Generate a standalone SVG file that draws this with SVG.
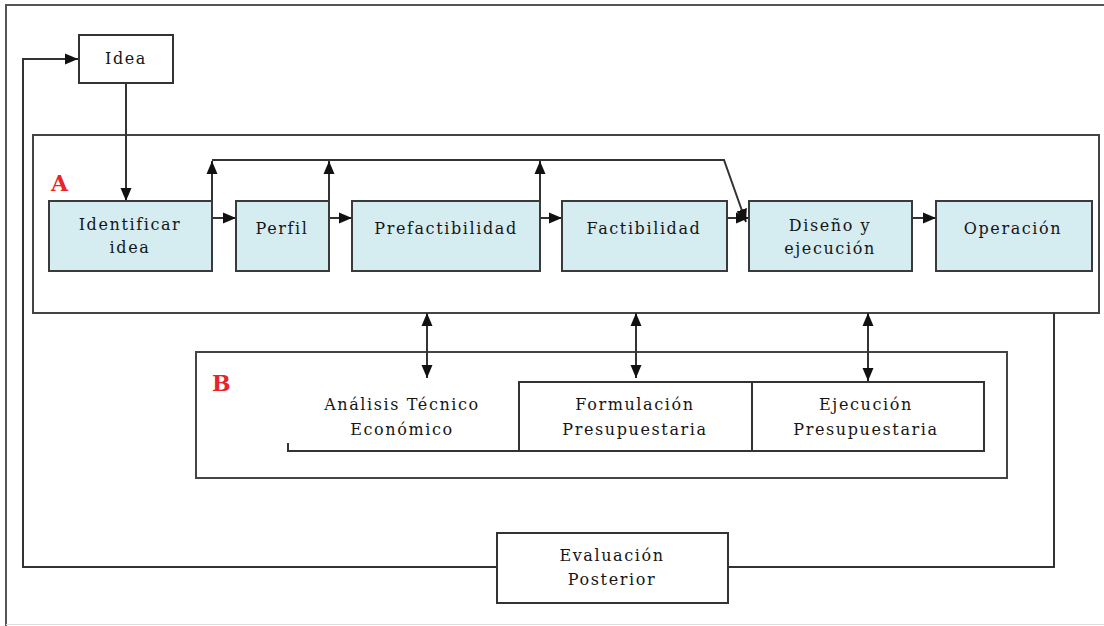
<svg xmlns="http://www.w3.org/2000/svg" width="1104" height="626" viewBox="0 0 1104 626">
<defs>
<marker id="ah" markerUnits="userSpaceOnUse" markerWidth="13" markerHeight="13" viewBox="0 0 13 13" refX="13" refY="6.5" orient="auto-start-reverse">
<path d="M0,1 L13,6.5 L0,12 Z" fill="#111"/>
</marker>
<style>
.line{fill:none;stroke:#333;stroke-width:2}
.arr{fill:none;stroke:#333;stroke-width:2;marker-end:url(#ah)}
.bi{fill:none;stroke:#333;stroke-width:2;marker-end:url(#ah);marker-start:url(#ah)}
.wbox{fill:#fff;stroke:#333;stroke-width:2}
.pbox{fill:#d5ecf1;stroke:#3a3a3a;stroke-width:2}
.frame{fill:none;stroke:#444;stroke-width:2}
text{font-family:"DejaVu Serif","Liberation Serif",serif;font-size:16px;letter-spacing:1.6px;fill:#151515;text-anchor:middle}
.lbl{font-family:"DejaVu Serif","Liberation Serif",serif;font-size:22px;font-weight:bold;letter-spacing:0;fill:#e8242a;text-anchor:start}
</style>
</defs>
<rect width="1104" height="626" fill="#fff"/>
<path d="M6,626 V5 H1104" fill="none" stroke="#555" stroke-width="2"/>
<line x1="6" y1="624.5" x2="1104" y2="624.5" stroke="#ddd" stroke-width="1"/>

<g id="frameA">
<rect class="frame" x="33" y="135" width="1066" height="178"/>
<text class="lbl" x="51" y="191">A</text>
</g>
<g id="frameB">
<rect class="frame" x="196" y="352" width="811" height="126"/>
<text class="lbl" x="212" y="391">B</text>
</g>

<g id="connectors">
<polyline class="arr" points="497,567 23,567 23,59 78,59"/>
<line class="arr" x1="126" y1="83" x2="126" y2="201"/>
<line class="arr" x1="212" y1="218" x2="236" y2="218"/>
<line class="arr" x1="329" y1="218" x2="352" y2="218"/>
<line class="arr" x1="540" y1="218" x2="562" y2="218"/>
<line class="arr" x1="727" y1="218" x2="749" y2="218"/>
<line class="arr" x1="912" y1="218" x2="936" y2="218"/>
<line class="arr" x1="212" y1="201" x2="212" y2="161"/>
<line class="arr" x1="329" y1="201" x2="329" y2="161"/>
<line class="arr" x1="540" y1="201" x2="540" y2="161"/>
<polyline class="arr" points="212,160 724,160 746,222"/>
<line class="bi" x1="427" y1="313" x2="427" y2="378"/>
<line class="bi" x1="636" y1="313" x2="636" y2="378"/>
<line class="bi" x1="868" y1="313" x2="868" y2="381"/>
<polyline class="line" points="728,567 1054,567 1054,313"/>
<polyline class="line" points="288,443 288,451 519,451"/>
</g>

<g id="idea">
<rect class="wbox" x="79" y="35" width="94" height="48"/>
<text x="126" y="64">Idea</text>
</g>
<g id="identificar">
<rect class="pbox" x="49" y="201" width="163" height="70"/>
<text x="130" y="230">Identificar</text>
<text x="130" y="253">idea</text>
</g>
<g id="perfil">
<rect class="pbox" x="236" y="201" width="93" height="70"/>
<text x="282" y="234">Perfil</text>
</g>
<g id="prefactibilidad">
<rect class="pbox" x="352" y="201" width="188" height="70"/>
<text x="446" y="234">Prefactibilidad</text>
</g>
<g id="factibilidad">
<rect class="pbox" x="562" y="201" width="165" height="70"/>
<text x="644" y="234">Factibilidad</text>
</g>
<g id="diseno">
<rect class="pbox" x="749" y="201" width="163" height="70"/>
<text x="830" y="231">Diseño y</text>
<text x="830" y="254">ejecución</text>
</g>
<g id="operacion">
<rect class="pbox" x="936" y="201" width="156" height="70"/>
<text x="1013" y="234">Operación</text>
</g>
<g id="analisis">
<text x="402" y="410">Análisis Técnico</text>
<text x="402" y="435">Económico</text>
</g>
<g id="formulacion">
<rect class="wbox" x="519" y="382" width="233" height="69"/>
<text x="635" y="410">Formulación</text>
<text x="635" y="435">Presupuestaria</text>
</g>
<g id="ejecucion">
<rect class="wbox" x="752" y="382" width="232" height="69"/>
<text x="866" y="410">Ejecución</text>
<text x="866" y="435">Presupuestaria</text>
</g>
<g id="evaluacion">
<rect class="wbox" x="497" y="533" width="231" height="70"/>
<text x="612" y="561">Evaluación</text>
<text x="612" y="585">Posterior</text>
</g>
</svg>
